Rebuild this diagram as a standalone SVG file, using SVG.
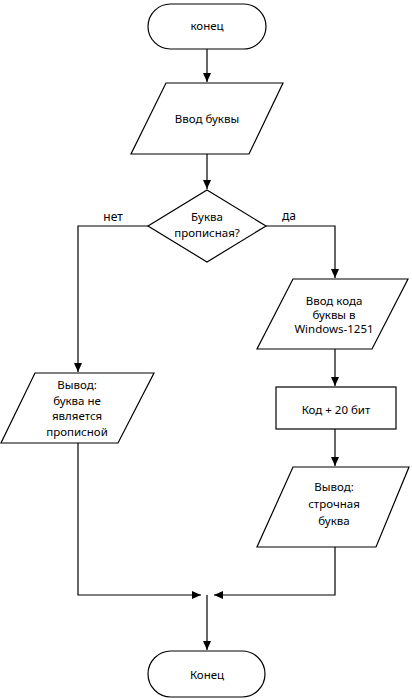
<svg xmlns="http://www.w3.org/2000/svg" width="412" height="700" viewBox="0 0 412 700">
<style>
.s{fill:#fff;stroke:#000;stroke-width:1.2}
.c{fill:none;stroke:#000;stroke-width:1.2}
text{font-family:"Segoe UI","Noto Sans","DejaVu Sans",sans-serif;font-size:11.5px;fill:#000;text-anchor:middle}
</style>
<defs>
<marker id="a" markerWidth="10" markerHeight="10" refX="9" refY="5" orient="auto" markerUnits="userSpaceOnUse">
<path d="M0,1 L9,5 L0,9 Z" fill="#000"/>
</marker>
</defs>
<rect width="412" height="700" fill="#fff"/>
<g id="connectors">
<line class="c" x1="207" y1="49" x2="207" y2="82" marker-end="url(#a)"/>
<line class="c" x1="207" y1="154" x2="207" y2="189" marker-end="url(#a)"/>
<polyline class="c" points="148,226 78,226 78,372" marker-end="url(#a)"/>
<polyline class="c" points="266,226 335,226 335,278" marker-end="url(#a)"/>
<line class="c" x1="335" y1="349" x2="335" y2="386" marker-end="url(#a)"/>
<line class="c" x1="335" y1="429" x2="335" y2="466" marker-end="url(#a)"/>
<polyline class="c" points="78,443 78,595 201,595" marker-end="url(#a)"/>
<polyline class="c" points="335,547 335,595 214,595" marker-end="url(#a)"/>
<line class="c" x1="207" y1="595" x2="207" y2="650" marker-end="url(#a)"/>
<text x="113" y="221" style="font-size:12px">нет</text>
<text x="289" y="220" style="font-size:12px">да</text>
</g>
<g id="start">
<rect class="s" x="148" y="4" width="118" height="45" rx="22.5"/>
<text x="207" y="30">конец</text>
</g>
<g id="input">
<polygon class="s" points="166,83 283,83 249,154 131,154"/>
<text x="207" y="123">Ввод буквы</text>
</g>
<g id="decision">
<polygon class="s" points="207,190 266,226 207,262 148,226"/>
<text x="207" y="221">Буква</text>
<text x="207" y="237">прописная?</text>
</g>
<g id="input-code">
<polygon class="s" points="293,279 408,279 372,349 257,349"/>
<text x="334" y="305">Ввод кода</text>
<text x="334" y="319">буквы в</text>
<text x="334" y="333">Windows-1251</text>
</g>
<g id="process">
<rect class="s" x="276" y="387" width="120" height="42"/>
<text x="336" y="414">Код + 20 бит</text>
</g>
<g id="output-lower">
<polygon class="s" points="293,467 409,467 376,547 257,547"/>
<text x="334" y="491">Вывод:</text>
<text x="334" y="508">строчная</text>
<text x="334" y="525">буква</text>
</g>
<g id="output-not">
<polygon class="s" points="35,373 154,373 118,443 1,443"/>
<text x="77" y="389">Вывод:</text>
<text x="77" y="405">буква не</text>
<text x="77" y="420">является</text>
<text x="77" y="436">прописной</text>
</g>
<g id="end">
<rect class="s" x="148" y="651" width="117" height="46" rx="23"/>
<text x="207" y="679">Конец</text>
</g>
</svg>
